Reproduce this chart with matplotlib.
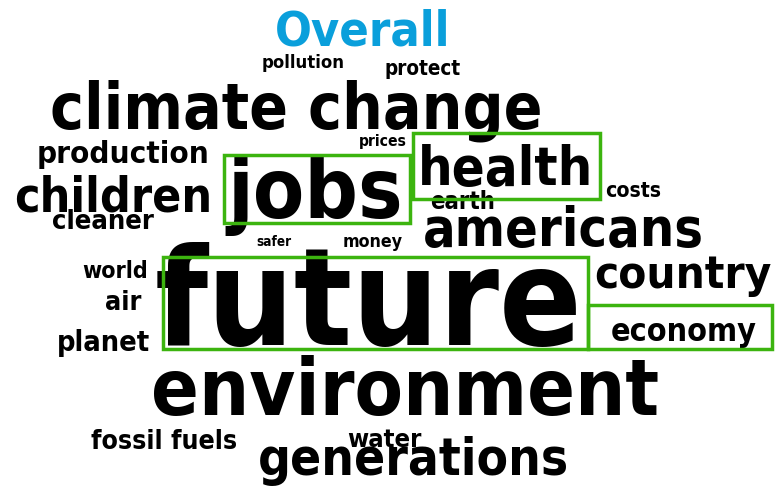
import matplotlib
matplotlib.use("Agg")
import matplotlib.pyplot as plt
from matplotlib.patches import Rectangle

# words of the cloud and where each one sits (left, right, baseline in px)
words = ["climate change", "pollution", "protect", "prices", "production",
         "health", "jobs", "children", "earth", "costs", "cleaner",
         "americans", "safer", "money", "future", "world", "country", "air",
         "economy", "planet", "environment", "fossil fuels", "water",
         "generations"]
left = [50, 262, 385, 359, 37, 418, 227, 14, 430, 605, 52, 423, 256, 343,
        155, 82, 594, 105, 611, 57, 151, 91, 347, 258]
right = [539, 344, 461, 407, 208, 592, 401, 210, 495, 661, 154, 702, 291,
         403, 582, 147, 770, 141, 756, 150, 656, 237, 421, 567]
baseline = [128, 68, 75, 146, 163, 185, 218, 212, 209, 197, 229, 246, 246,
            247, 345, 278, 288, 310, 341, 351, 415, 449, 447, 475]

title = "Overall"
title_span = (275, 449, 45)

# highlighted words: box x0, x1, y0, y1
boxes = {"jobs": (224, 410, 155, 223), "health": (413, 600, 133, 199),
         "future": (163, 588, 257, 349), "economy": (588, 772, 305, 349)}

fig = plt.figure(figsize=(7.75, 4.95), dpi=100)
ax = fig.add_axes([0, 0, 1, 1])
ax.set_xlim(0, 775)
ax.set_ylim(495, 0)
ax.axis("off")
r = fig.canvas.get_renderer()

def fit_word(s, x0, x1, yb, color, z=2):
    t = ax.text(x0, yb, s, fontsize=10, fontweight="bold",
                fontstretch="condensed", family="DejaVu Sans", color=color,
                ha="left", va="baseline", zorder=z)
    w = t.get_window_extent(r).width
    t.set_fontsize(10 * (x1 - x0) / w)
    return t

for i, w in enumerate(words):
    # earth sits behind the health box in the reference
    fit_word(w, left[i], right[i], baseline[i], "black", 1 if w == "earth" else 2)

fit_word(title, title_span[0], title_span[1], title_span[2], "#0a9fdb")

for k, (x0, x1, y0, y1) in boxes.items():
    ax.add_patch(Rectangle((x0, y0), x1 - x0, y1 - y0, facecolor="none",
                           edgecolor="#3cb40f", linewidth=2.5, zorder=3))

fig.savefig("out.png", dpi=100)
